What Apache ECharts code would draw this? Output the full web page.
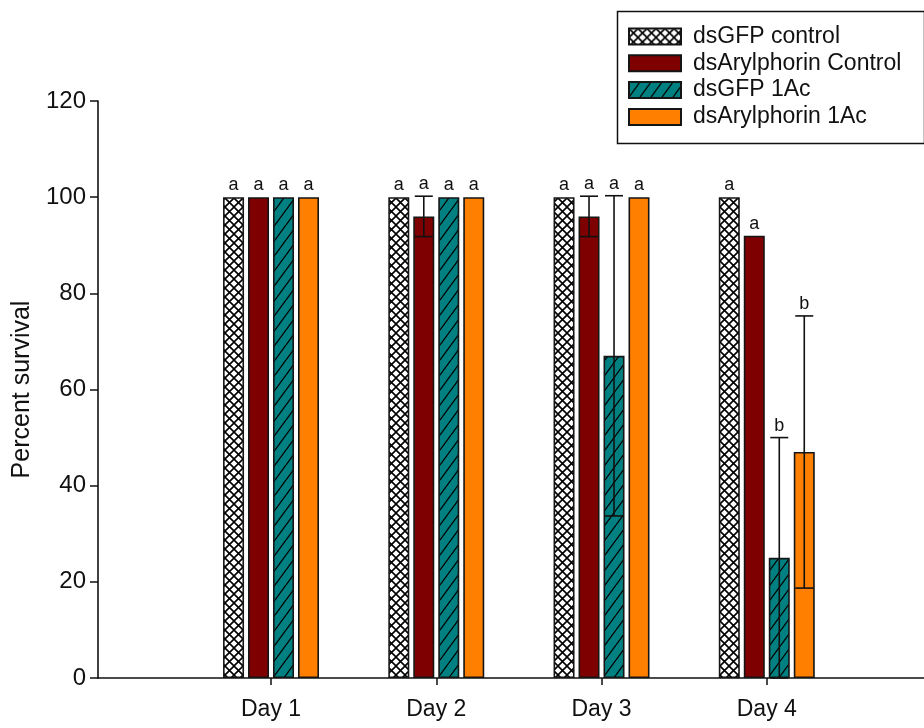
<!DOCTYPE html>
<html>
<head>
<meta charset="utf-8">
<script src="https://cdn.jsdelivr.net/npm/echarts@6/dist/echarts.min.js"></script>
<style>
  html, body { margin: 0; padding: 0; background: #fff; }
  #chart { width: 924px; height: 728px; }
</style>
</head>
<body>
<div id="chart"></div>
<script>
// Survival over four days for each dsRNA treatment
const days = ['Day 1', 'Day 2', 'Day 3', 'Day 4'];
const seriesNames = ['dsGFP control', 'dsArylphorin Control', 'dsGFP 1Ac', 'dsArylphorin 1Ac'];

const gfpControl  = [100, 100, 100, 100];
const arylControl = [100, 96, 96, 92];
const gfp1Ac      = [100, 100, 67, 25];
const aryl1Ac     = [100, 100, 100, 47];

// error bar half-lengths
const gfpControlErr  = [0, 0, 0, 0];
const arylControlErr = [0, 4.2, 4.2, 0];
const gfp1AcErr      = [0, 0, 33.3, 25];
const aryl1AcErr     = [0, 0, 0, 28.3];

// significance letters
const gfpControlLetters  = ['a', 'a', 'a', 'a'];
const arylControlLetters = ['a', 'a', 'a', 'a'];
const gfp1AcLetters      = ['a', 'a', 'a', 'b'];
const aryl1AcLetters     = ['a', 'a', 'a', 'b'];

const yMin = 0, yMax = 120, yStep = 20;

const values  = [gfpControl, arylControl, gfp1Ac, aryl1Ac];
const errors  = [gfpControlErr, arylControlErr, gfp1AcErr, aryl1AcErr];
const letters = [gfpControlLetters, arylControlLetters, gfp1AcLetters, aryl1AcLetters];

const FONT = '"Liberation Sans", Arial, sans-serif';
const BAR_W = 21, BAR_GAP = 4;

// fill patterns
function crossHatch() {
  const c = document.createElement('canvas');
  const s = 9;
  c.width = s; c.height = s;
  const g = c.getContext('2d');
  g.fillStyle = '#ffffff';
  g.fillRect(0, 0, s, s);
  g.strokeStyle = '#000';
  g.lineWidth = 1.6;
  g.beginPath();
  g.moveTo(0, 0); g.lineTo(s, s);
  g.moveTo(s, 0); g.lineTo(0, s);
  g.stroke();
  return { image: c, repeat: 'repeat' };
}
function diagHatch(bg) {
  const c = document.createElement('canvas');
  const w = 11, h = 15;
  c.width = w; c.height = h;
  const g = c.getContext('2d');
  g.fillStyle = bg;
  g.fillRect(0, 0, w, h);
  g.strokeStyle = '#000';
  g.lineWidth = 1.3;
  g.beginPath();
  for (let dx = -1; dx <= 1; dx++) {
    g.moveTo(dx * w, h);
    g.lineTo(dx * w + w, 0);
  }
  g.stroke();
  return { image: c, repeat: 'repeat' };
}

const fills = [crossHatch(), '#7f0000', diagHatch('#008080'), '#ff8000'];

const barSeries = seriesNames.map((name, i) => ({
  name: name,
  type: 'bar',
  xAxisIndex: 0,
  yAxisIndex: 0,
  data: values[i],
  barWidth: BAR_W,
  barGap: (BAR_GAP / BAR_W * 100).toFixed(1) + '%',
  itemStyle: { color: fills[i], borderColor: '#151515', borderWidth: 1.6 },
  emphasis: { disabled: true },
  z: 2
}));

// error bars and letters drawn on top of the bars
const markData = [];
const markLetters = [];
values.forEach((vals, s) => {
  vals.forEach((v, d) => {
    markData.push([d, v, errors[s][d], s]);
    markLetters.push(letters[s][d]);
  });
});

const markSeries = {
  type: 'custom',
  xAxisIndex: 0,
  yAxisIndex: 0,
  data: markData,
  encode: { x: 0, y: 1 },
  z: 5,
  silent: true,
  renderItem: function (params, api) {
    const d = api.value(0), v = api.value(1), e = api.value(2), s = api.value(3);
    const off = (s - 1.5) * (BAR_W + BAR_GAP);
    const top = api.coord([d, v]);
    const cx = top[0] + off;
    const children = [];
    let labelY = top[1];
    if (e > 0) {
      const hi = api.coord([d, v + e])[1];
      const lo = api.coord([d, Math.max(v - e, 0)])[1];
      const half = 9;
      const st = { stroke: '#111', lineWidth: 1.6 };
      children.push({ type: 'line', shape: { x1: cx, y1: hi, x2: cx, y2: lo }, style: st });
      children.push({ type: 'line', shape: { x1: cx - half, y1: hi, x2: cx + half, y2: hi }, style: st });
      children.push({ type: 'line', shape: { x1: cx - half, y1: lo, x2: cx + half, y2: lo }, style: st });
      labelY = Math.min(labelY, hi);
    }
    children.push({
      type: 'text',
      style: {
        x: cx, y: labelY - 3,
        text: markLetters[params.dataIndex],
        fill: '#111',
        font: '18px ' + FONT,
        align: 'center',
        verticalAlign: 'bottom'
      }
    });
    return { type: 'group', children: children };
  }
};

const chart = echarts.init(document.getElementById('chart'), null, { renderer: 'canvas' });

chart.setOption({
  animation: false,
  backgroundColor: '#ffffff',
  textStyle: { fontFamily: FONT },
  grid: [
    // bars: four 165px-wide day bands
    { left: 188.4, width: 661, top: 101, bottom: 50, containLabel: false },
    // full-width frame carrying the visible axes
    { left: 98, right: 0, top: 101, bottom: 50, containLabel: false }
  ],
  xAxis: [
    {
      type: 'category',
      gridIndex: 0,
      data: days,
      axisLine: { show: false },
      axisTick: { show: true, alignWithLabel: true, length: 7, lineStyle: { color: '#111', width: 1.5 } },
      axisLabel: { fontSize: 23, color: '#111', margin: 20, fontFamily: FONT },
      splitLine: { show: false }
    },
    {
      type: 'value',
      gridIndex: 1,
      min: 0, max: 1,
      axisLine: { show: true, onZero: false, lineStyle: { color: '#111', width: 1.6 } },
      axisTick: { show: false },
      axisLabel: { show: false },
      splitLine: { show: false }
    }
  ],
  yAxis: [
    {
      type: 'value',
      gridIndex: 0,
      min: yMin, max: yMax, interval: yStep,
      show: false,
      splitLine: { show: false }
    },
    {
      type: 'value',
      gridIndex: 1,
      min: yMin, max: yMax, interval: yStep,
      name: 'Percent survival',
      nameLocation: 'middle',
      nameGap: 62,
      nameTextStyle: { fontSize: 25, color: '#111', fontFamily: FONT },
      axisLine: { show: true, lineStyle: { color: '#111', width: 1.6 } },
      axisTick: { show: true, length: 8, lineStyle: { color: '#111', width: 1.5 } },
      axisLabel: { fontSize: 24, color: '#111', margin: 12, fontFamily: FONT },
      splitLine: { show: false }
    }
  ],
  legend: {
    orient: 'vertical',
    left: 628,
    top: 25,
    padding: 0,
    itemWidth: 52,
    itemHeight: 16,
    itemGap: 3.8,
    selectedMode: false,
    icon: 'rect',
    data: seriesNames,
    textStyle: { fontSize: 23, color: '#111', lineHeight: 16, padding: [0, 0, 0, 7], fontFamily: FONT }
  },
  graphic: [
    {
      type: 'rect',
      left: 615, top: 9,
      shape: { width: 307, height: 132 },
      style: { fill: 'none', stroke: '#111', lineWidth: 1.5 },
      z: 10
    }
  ],
  series: barSeries.concat([markSeries])
});
</script>
</body>
</html>
